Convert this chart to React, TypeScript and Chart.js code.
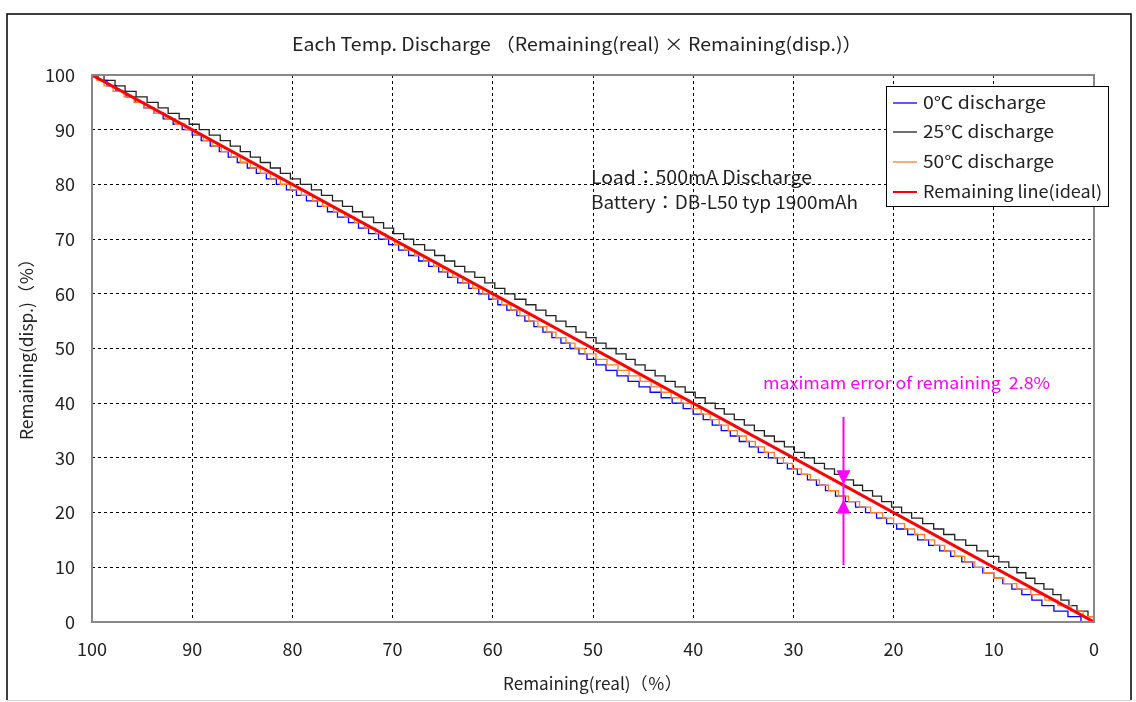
import React, { useEffect, useRef } from "react";
import { Chart, registerables } from "chart.js";

Chart.register(...registerables);

// Displayed remaining (%) levels, 100 down to 0
const displayLevels = [
  100, 99, 98, 97, 96, 95, 94, 93, 92, 91, 90, 89, 88, 87, 86, 85, 84, 83, 82, 81,
  80, 79, 78, 77, 76, 75, 74, 73, 72, 71, 70, 69, 68, 67, 66, 65, 64, 63, 62, 61,
  60, 59, 58, 57, 56, 55, 54, 53, 52, 51, 50, 49, 48, 47, 46, 45, 44, 43, 42, 41,
  40, 39, 38, 37, 36, 35, 34, 33, 32, 31, 30, 29, 28, 27, 26, 25, 24, 23, 22, 21,
  20, 19, 18, 17, 16, 15, 14, 13, 12, 11, 10, 9, 8, 7, 6, 5, 4, 3, 2, 1, 0,
];

// Real remaining (%) at which each displayed level begins
const blue0CX = [
  100.0, 99.4, 98.5, 97.6, 96.6, 95.7, 94.8, 93.8, 92.9, 91.9, 91.0, 90.0, 89.1, 88.2, 87.3, 86.4, 85.5, 84.5, 83.6, 82.6,
  81.6, 80.6, 79.6, 78.6, 77.5, 76.5, 75.5, 74.4, 73.4, 72.4, 71.4, 70.4, 69.4, 68.4, 67.4, 66.4, 65.4, 64.5, 63.5, 62.4,
  61.4, 60.4, 59.5, 58.6, 57.6, 56.8, 55.9, 55.0, 54.1, 53.2, 52.3, 51.4, 50.6, 49.7, 48.7, 47.6, 46.5, 45.4, 44.3, 43.2,
  42.1, 41.0, 40.0, 39.0, 38.1, 37.2, 36.3, 35.4, 34.4, 33.5, 32.5, 31.6, 30.6, 29.6, 28.6, 27.7, 26.8, 25.8, 24.8, 23.8,
  22.8, 21.7, 20.7, 19.7, 18.6, 17.6, 16.5, 15.4, 14.3, 13.2, 12.1, 11.1, 10.0, 9.1, 8.2, 7.2, 6.2, 5.2, 4.0, 2.6, 1.3,
];

const black25CX = [
  100.0, 98.8, 97.7, 96.7, 95.6, 94.5, 93.4, 92.4, 91.3, 90.3, 89.3, 88.3, 87.2, 86.2, 85.2, 84.2, 83.2, 82.2, 81.2, 80.2,
  79.2, 78.1, 77.1, 76.0, 75.0, 74.0, 73.0, 71.9, 70.9, 69.9, 68.9, 67.9, 66.8, 65.8, 64.8, 63.8, 62.8, 61.8, 60.8, 59.8,
  58.8, 57.8, 56.7, 55.7, 54.7, 53.7, 52.7, 51.7, 50.7, 49.7, 48.7, 47.7, 46.7, 45.8, 44.8, 43.8, 42.8, 41.8, 40.8, 39.8,
  38.8, 37.8, 36.9, 35.9, 34.9, 33.9, 32.9, 31.9, 30.9, 29.9, 28.9, 27.9, 26.9, 25.9, 24.9, 24.0, 23.1, 22.1, 21.2, 20.2,
  19.2, 18.2, 17.1, 16.0, 15.0, 13.9, 12.8, 11.7, 10.6, 9.5, 8.5, 7.7, 6.8, 5.9, 5.0, 4.1, 3.3, 2.5, 1.7, 0.6, 0.0,
];

const orange50CX = [
  100.0, 99.5, 98.8, 97.9, 96.8, 95.8, 94.8, 93.8, 92.7, 91.7, 90.7, 89.8, 88.9, 88.0, 87.1, 86.1, 85.2, 84.2, 83.2, 82.2,
  81.2, 80.2, 79.1, 78.0, 77.0, 75.9, 74.8, 73.8, 72.8, 71.7, 70.7, 69.8, 68.8, 67.8, 66.9, 65.9, 65.0, 64.0, 63.0, 62.0,
  61.0, 60.0, 59.1, 58.2, 57.3, 56.4, 55.5, 54.6, 53.7, 52.7, 51.8, 50.8, 49.7, 48.6, 47.5, 46.4, 45.3, 44.2, 43.2, 42.2,
  41.2, 40.2, 39.2, 38.3, 37.4, 36.5, 35.6, 34.7, 33.8, 32.9, 31.9, 31.0, 30.1, 29.2, 28.3, 27.4, 26.5, 25.5, 24.5, 23.4,
  22.3, 21.1, 20.0, 18.9, 17.9, 16.9, 15.9, 14.9, 13.9, 12.9, 11.9, 11.0, 10.0, 9.0, 7.7, 6.3, 4.9, 3.6, 2.3, 1.1, 0.0,
];

const idealX = [100, 0];
const idealY = [100, 0];

const seriesLabels = ["0℃ discharge", "25℃ discharge", "50℃ discharge", "Remaining line(ideal)"];
const seriesColors = ["#0000ff", "#222222", "#ff8028", "#ff0000"];

const titleText = "Each Temp. Discharge （Remaining(real) × Remaining(disp.)）";
const xTitle = "Remaining(real)（％）";
const yTitle = "Remaining(disp.)（％）";
const noteLines = ["Load：500mA Discharge", "Battery：DB-L50 typ 1900mAh"];
const errorNote = "maximam error of remaining  2.8%";

// error arrow (data units)
const arrowX = 25;
const arrowTop = 37.5;
const arrowBottom = 10.4;
const errHigh = 25.2;
const errLow = 22.4;

const FONT = '"Noto Sans CJK JP", "Noto Sans", sans-serif';

function stepPoints(xs: number[]) {
  const pts = xs.map((x, i) => ({ x, y: displayLevels[i] }));
  const last = pts[pts.length - 1];
  if (last.x > 0) pts.push({ x: 0, y: last.y });
  return pts;
}

function fitText(ctx: CanvasRenderingContext2D, text: string, x: number, y: number, width: number) {
  const w = ctx.measureText(text).width;
  ctx.save();
  ctx.translate(x, y);
  ctx.scale(width / w, 1);
  ctx.fillText(text, 0, 0);
  ctx.restore();
}

const decorPlugin = {
  id: "decor",
  afterDraw(chart: any) {
    const ctx = chart.ctx as CanvasRenderingContext2D;
    const ca = chart.chartArea;
    const xs = chart.scales.x;
    const ys = chart.scales.y;
    ctx.save();

    // plot border
    ctx.strokeStyle = "#888888";
    ctx.lineWidth = 2;
    ctx.strokeRect(ca.left, ca.top, ca.right - ca.left, ca.bottom - ca.top);

    // outer frame
    ctx.strokeStyle = "#000";
    ctx.lineWidth = 1.5;
    ctx.beginPath();
    ctx.moveTo(7, 700);
    ctx.lineTo(7, 14);
    ctx.lineTo(1131, 14);
    ctx.lineTo(1131, 700);
    ctx.stroke();
    ctx.strokeStyle = "#d0d0d0";
    ctx.lineWidth = 1;
    ctx.beginPath();
    ctx.moveTo(7, 700.5);
    ctx.lineTo(1131, 700.5);
    ctx.stroke();

    ctx.fillStyle = "#222";
    ctx.textBaseline = "middle";
    // title
    ctx.font = `18px ${FONT}`;
    ctx.textAlign = "left";
    fitText(ctx, titleText, 292, 44, 570);

    // axis titles
    ctx.font = `17px ${FONT}`;
    fitText(ctx, xTitle, 503, 684, 179);
    ctx.save();
    ctx.translate(27, 440);
    ctx.rotate(-Math.PI / 2);
    fitText(ctx, yTitle, 0, 0, 190);
    ctx.restore();

    // notes
    ctx.font = `18px ${FONT}`;
    fitText(ctx, noteLines[0], 591, 177, 221);
    fitText(ctx, noteLines[1], 591, 202, 267);

    // error note
    ctx.fillStyle = "#ff00ff";
    ctx.font = `16px ${FONT}`;
    fitText(ctx, errorNote, 763, 383, 287);

    // arrows
    const ax = xs.getPixelForValue(arrowX);
    ctx.strokeStyle = "#ff00ff";
    ctx.lineWidth = 2;
    ctx.beginPath();
    ctx.moveTo(ax, ys.getPixelForValue(arrowTop));
    ctx.lineTo(ax, ys.getPixelForValue(arrowBottom));
    ctx.stroke();
    const th = ys.getPixelForValue(errHigh);
    const tl = ys.getPixelForValue(errLow);
    ctx.beginPath();
    ctx.moveTo(ax, th);
    ctx.lineTo(ax - 7, th - 14);
    ctx.lineTo(ax + 7, th - 14);
    ctx.closePath();
    ctx.fill();
    ctx.beginPath();
    ctx.moveTo(ax, tl);
    ctx.lineTo(ax - 7, tl + 14);
    ctx.lineTo(ax + 7, tl + 14);
    ctx.closePath();
    ctx.fill();

    // legend
    ctx.fillStyle = "#fff";
    ctx.fillRect(886, 86, 222, 120);
    ctx.strokeStyle = "#000";
    ctx.lineWidth = 1;
    ctx.strokeRect(886.5, 86.5, 222, 120);
    ctx.font = `17px ${FONT}`;
    const rows = [103, 132, 162, 192];
    const widths = [123, 131, 131, 179];
    seriesLabels.forEach((lab, i) => {
      ctx.strokeStyle = seriesColors[i];
      ctx.lineWidth = i === 3 ? 2 : 1.3;
      ctx.beginPath();
      ctx.moveTo(893, rows[i]);
      ctx.lineTo(917, rows[i]);
      ctx.stroke();
      ctx.fillStyle = "#222";
      fitText(ctx, lab, 923, rows[i], widths[i]);
    });

    ctx.restore();
  },
};

export default function App() {
  const ref = useRef<HTMLCanvasElement | null>(null);

  useEffect(() => {
    document.body.style.margin = "0";
    const canvas = ref.current!;
    const gridColor = (c: any) =>
      c.tick && (c.tick.value === 0 || c.tick.value === 100) ? "rgba(0,0,0,0)" : "#000";
    const chart = new Chart(canvas, {
      type: "line",
      data: {
        datasets: [
          {
            label: seriesLabels[3],
            data: idealX.map((x, i) => ({ x, y: idealY[i] })),
            borderColor: seriesColors[3],
            borderWidth: 3,
            pointRadius: 0,
            order: 0,
          },
          {
            label: seriesLabels[2],
            data: stepPoints(orange50CX),
            borderColor: seriesColors[2],
            borderWidth: 1.3,
            pointRadius: 0,
            stepped: true,
            order: 1,
          },
          {
            label: seriesLabels[0],
            data: stepPoints(blue0CX),
            borderColor: seriesColors[0],
            borderWidth: 1.3,
            pointRadius: 0,
            stepped: true,
            order: 2,
          },
          {
            label: seriesLabels[1],
            data: stepPoints(black25CX),
            borderColor: seriesColors[1],
            borderWidth: 1.3,
            pointRadius: 0,
            stepped: true,
            order: 3,
          },
        ],
      },
      options: {
        responsive: false,
        animation: false,
        layout: { padding: { top: 75, right: 42, left: 0, bottom: 0 } },
        plugins: { legend: { display: false }, title: { display: false }, tooltip: { enabled: false } },
        scales: {
          x: {
            type: "linear",
            reverse: true,
            min: 0,
            max: 100,
            ticks: { stepSize: 10, padding: 16, color: "#222", font: { family: FONT, size: 18 }, maxRotation: 0 },
            grid: { color: gridColor, lineWidth: 1, drawTicks: false },
            border: { display: false, dash: [3, 3] },
            afterFit: (s: any) => {
              s.height = 80;
            },
          },
          y: {
            type: "linear",
            min: 0,
            max: 100,
            ticks: { stepSize: 10, padding: 17, color: "#222", font: { family: FONT, size: 18 } },
            grid: { color: gridColor, lineWidth: 1, drawTicks: false },
            border: { display: false, dash: [3, 3] },
            afterFit: (s: any) => {
              s.width = 92;
            },
          },
        },
      },
      plugins: [decorPlugin],
    });
    return () => chart.destroy();
  }, []);

  return (
    <div style={{ position: "fixed", left: 0, top: 0, width: 1136, height: 702, background: "#fff" }}>
      <canvas ref={ref} width={1136} height={702} />
    </div>
  );
}
